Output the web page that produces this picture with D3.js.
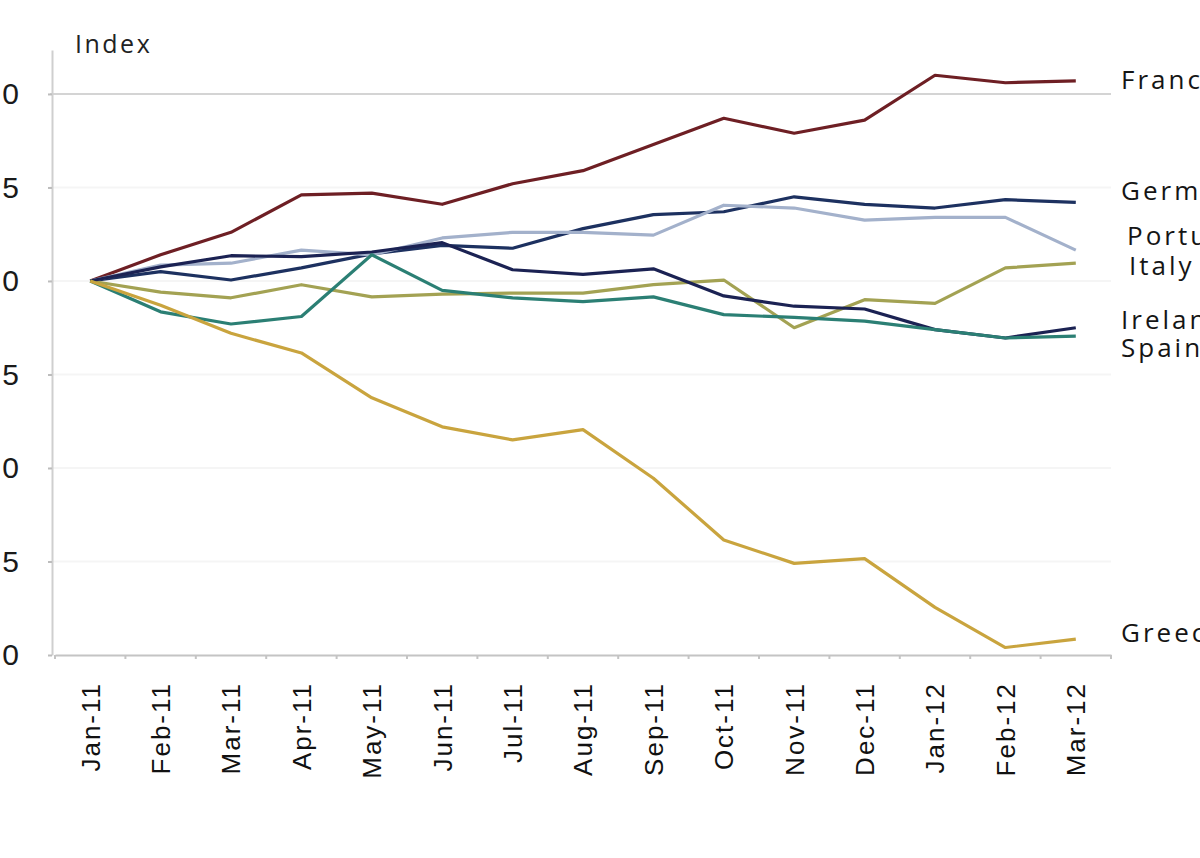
<!DOCTYPE html>
<html>
<head>
<meta charset="utf-8">
<script src="https://cdn.jsdelivr.net/npm/d3@7"></script>
<style>
  html, body { margin: 0; padding: 0; background: #fff; overflow: hidden; }
  svg { display: block; font-family: "Open Sans", "DejaVu Sans", sans-serif; }
</style>
</head>
<body>
<div id="app"></div>
<script>
    const months = ['Jan-11', 'Feb-11', 'Mar-11', 'Apr-11', 'May-11', 'Jun-11', 'Jul-11', 'Aug-11',
        'Sep-11', 'Oct-11', 'Nov-11', 'Dec-11', 'Jan-12', 'Feb-12', 'Mar-12'];
    const yTicks = [80, 85, 90, 95, 100, 105, 110];

    const france = [100, 101.4, 102.6, 104.6, 104.7, 104.1, 105.2, 105.9, 107.3, 108.7, 107.9, 108.6, 111.0, 110.6, 110.7];
    const germany = [100, 100.5, 100.05, 100.7, 101.45, 101.9, 101.75, 102.8, 103.55, 103.7, 104.5, 104.1, 103.9, 104.35, 104.2];
    const portugal = [100, 100.85, 100.95, 101.65, 101.4, 102.3, 102.6, 102.6, 102.45, 104.05, 103.9, 103.25, 103.4, 103.4, 101.65];
    const italy = [100, 99.4, 99.1, 99.8, 99.15, 99.3, 99.35, 99.35, 99.8, 100.05, 97.5, 99.0, 98.8, 100.7, 100.95];
    const ireland = [100, 100.75, 101.35, 101.3, 101.55, 102.05, 100.6, 100.35, 100.65, 99.2, 98.65, 98.5, 97.4, 96.95, 97.5];
    const spain = [100, 98.35, 97.7, 98.1, 101.4, 99.5, 99.1, 98.9, 99.15, 98.2, 98.05, 97.85, 97.4, 96.95, 97.05];
    const greece = [100, 98.7, 97.2, 96.15, 93.75, 92.2, 91.5, 92.05, 89.45, 86.15, 84.9, 85.15, 82.55, 80.4, 80.85];

    const series = [
        { name: 'France', values: france, color: '#6e1f24', nudge: 8 },
        { name: 'Germany', values: germany, color: '#1d3160', nudge: -2 },
        { name: 'Portugal', values: portugal, color: '#a3b1cb', nudge: -5, dx: 6 },
        { name: 'Italy', values: italy, color: '#a3a253', nudge: 12, dx: 8 },
        { name: 'Ireland', values: ireland, color: '#1b2253', nudge: 1 },
        { name: 'Spain', values: spain, color: '#2b7f74', nudge: 21 },
        { name: 'Greece', values: greece, color: '#c9a43e', nudge: 3 },
    ];

    const width = 1200;
    const height = 858;

    const x = d3.scaleBand().domain(months).range([55, 1111]);
    const cx = m => x(m) + x.bandwidth() / 2;
    const y = d3.scaleLinear().domain([80, 112.35]).range([655, 50]);

    const svg = d3.select('#app').append('svg')
        .attr('width', width)
        .attr('height', height);

    // grid lines
    svg.append('g')
        .selectAll('line')
        .data(yTicks.filter(t => t !== 80))
        .enter().append('line')
        .attr('x1', 50)
        .attr('x2', 1111)
        .attr('y1', d => y(d))
        .attr('y2', d => y(d))
        .attr('stroke', d => d === 110 ? '#d4d4d4' : '#f5f5f5')
        .attr('stroke-width', 2);

    // y axis (labels run off the left edge, only the last digit shows)
    const yAxis = svg.append('g')
        .attr('transform', 'translate(52,0)')
        .call(d3.axisLeft(y).tickValues(yTicks).tickSize(4).tickPadding(26).tickSizeOuter(0).tickFormat(d3.format('d')));
    yAxis.select('.domain').attr('stroke', '#cfcfcf').attr('stroke-width', 2);
    yAxis.selectAll('.tick line').attr('stroke', '#bdbdbd').attr('stroke-width', 2);
    yAxis.selectAll('.tick text')
        .attr('fill', '#1a1a1a')
        .style('font-size', '30px')
        .style('letter-spacing', '3px');

    // x axis
    const xAxis = svg.append('g')
        .attr('transform', 'translate(0,655)')
        .call(d3.axisBottom(x).tickSize(0).tickSizeOuter(0));
    xAxis.select('.domain').attr('stroke', '#c4c4c4').attr('stroke-width', 2);
    xAxis.selectAll('.tick text')
        .attr('transform', 'rotate(-90)')
        .attr('x', -27)
        .attr('y', 0)
        .attr('dy', '0.36em')
        .attr('fill', '#111')
        .style('text-anchor', 'end')
        .style('font-size', '26px')
        .style('letter-spacing', '2px');

    // category boundary ticks
    xAxis.append('g')
        .selectAll('line')
        .data(months.map(m => x(m)).concat([x.range()[1]]))
        .enter().append('line')
        .attr('x1', d => d)
        .attr('x2', d => d)
        .attr('y1', 0)
        .attr('y2', 4)
        .attr('stroke', '#c4c4c4')
        .attr('stroke-width', 2);

    svg.append('text')
        .attr('x', 75)
        .attr('y', 53)
        .attr('fill', '#222')
        .style('font-size', '25px')
        .style('letter-spacing', '2.5px')
        .text('Index');

    const line = d3.line()
        .x((d, i) => cx(months[i]))
        .y(d => y(d));

    svg.append('g')
        .selectAll('path')
        .data(series)
        .enter().append('path')
        .attr('fill', 'none')
        .attr('stroke', d => d.color)
        .attr('stroke-width', 3.2)
        .attr('stroke-linejoin', 'round')
        .attr('d', d => line(d.values));

    svg.append('g')
        .selectAll('text')
        .data(series)
        .enter().append('text')
        .attr('x', d => 1121 + (d.dx || 0))
        .attr('y', d => y(d.values[d.values.length - 1]) + d.nudge)
        .attr('fill', '#151515')
        .style('font-size', '26px')
        .style('letter-spacing', '3px')
        .text(d => d.name);
</script>
</body>
</html>
